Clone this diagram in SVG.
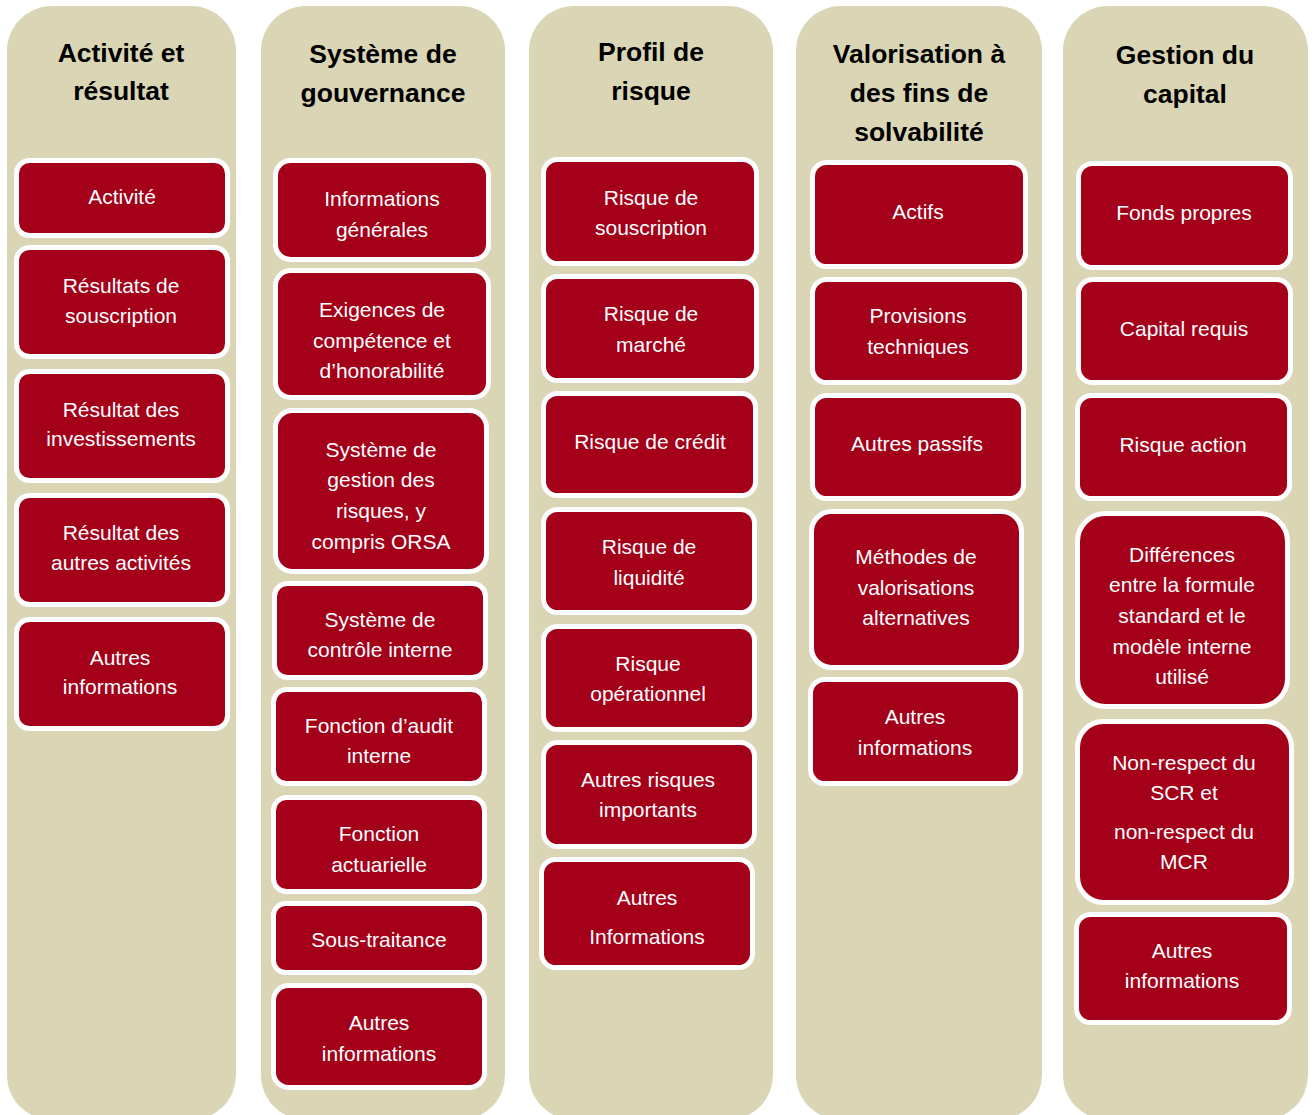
<svg xmlns="http://www.w3.org/2000/svg" width="1312" height="1115" viewBox="0 0 1312 1115">
<style>
.col{fill:#DAD5B5;}
.box{fill:#A40019;stroke:#FFFFFF;stroke-width:5;}
.t{font-family:"Liberation Sans",Arial,sans-serif;font-size:21px;fill:#FFFFFF;text-anchor:middle;}
.h{font-family:"Liberation Sans",Arial,sans-serif;font-size:26.5px;font-weight:bold;fill:#000000;text-anchor:middle;}
</style>
<rect width="1312" height="1115" fill="#FFFFFF"/>
<g id="columns">
<rect class="col" x="7" y="6" width="229" height="1114" rx="45"/>
<rect class="col" x="261" y="6" width="244" height="1114" rx="45"/>
<rect class="col" x="529" y="6" width="244" height="1114" rx="45"/>
<rect class="col" x="796" y="6" width="246" height="1114" rx="45"/>
<rect class="col" x="1063" y="6" width="245" height="1114" rx="45"/>
</g>
<g id="headers">
<text class="h" x="121" y="62">Activité et</text>
<text class="h" x="121" y="100">résultat</text>
<text class="h" x="383" y="63">Système de</text>
<text class="h" x="383" y="102">gouvernance</text>
<text class="h" x="651" y="61">Profil de</text>
<text class="h" x="651" y="100">risque</text>
<text class="h" x="919" y="63">Valorisation à</text>
<text class="h" x="919" y="102">des fins de</text>
<text class="h" x="919" y="141">solvabilité</text>
<text class="h" x="1185" y="64">Gestion du</text>
<text class="h" x="1185" y="103">capital</text>
</g>
<g id="connectors"></g>
<!-- Column 1 -->
<g id="n-activite"><rect class="box" x="16.5" y="160.5" width="211" height="75" rx="13"/><text class="t" x="122" y="204">Activité</text></g>
<g id="n-res-souscription"><rect class="box" x="16.5" y="247.5" width="211" height="109" rx="13"/><text class="t" x="121" y="293">Résultats de</text><text class="t" x="121" y="323">souscription</text></g>
<g id="n-res-invest"><rect class="box" x="16.5" y="371.5" width="211" height="109" rx="13"/><text class="t" x="121" y="417">Résultat des</text><text class="t" x="121" y="446">investissements</text></g>
<g id="n-res-autres"><rect class="box" x="16.5" y="495.5" width="211" height="109" rx="13"/><text class="t" x="121" y="540">Résultat des</text><text class="t" x="121" y="570">autres activités</text></g>
<g id="n-autres-info-1"><rect class="box" x="16.5" y="619.5" width="211" height="109" rx="13"/><text class="t" x="120" y="665">Autres</text><text class="t" x="120" y="694">informations</text></g>
<!-- Column 2 -->
<g id="n-info-gen"><rect class="box" x="275.5" y="160.5" width="213" height="99" rx="15"/><text class="t" x="382" y="206">Informations</text><text class="t" x="382" y="237">générales</text></g>
<g id="n-exigences"><rect class="box" x="275.5" y="270.5" width="213" height="127" rx="15"/><text class="t" x="382" y="317">Exigences de</text><text class="t" x="382" y="348">compétence et</text><text class="t" x="382" y="378">d’honorabilité</text></g>
<g id="n-gestion-risques"><rect class="box" x="275.5" y="410.5" width="211" height="161" rx="17"/><text class="t" x="381" y="457">Système de</text><text class="t" x="381" y="487">gestion des</text><text class="t" x="381" y="518">risques, y</text><text class="t" x="381" y="549">compris ORSA</text></g>
<g id="n-controle"><rect class="box" x="274.5" y="583.5" width="211" height="94" rx="13"/><text class="t" x="380" y="627">Système de</text><text class="t" x="380" y="657">contrôle interne</text></g>
<g id="n-audit"><rect class="box" x="273.5" y="689.5" width="211" height="94" rx="13"/><text class="t" x="379" y="733">Fonction d’audit</text><text class="t" x="379" y="763">interne</text></g>
<g id="n-actuarielle"><rect class="box" x="273.5" y="797.5" width="211" height="94" rx="13"/><text class="t" x="379" y="841">Fonction</text><text class="t" x="379" y="872">actuarielle</text></g>
<g id="n-sous-traitance"><rect class="box" x="273.5" y="903.5" width="211" height="69" rx="12"/><text class="t" x="379" y="947">Sous-traitance</text></g>
<g id="n-autres-info-2"><rect class="box" x="273.5" y="985.5" width="211" height="102" rx="15"/><text class="t" x="379" y="1030">Autres</text><text class="t" x="379" y="1061">informations</text></g>
<!-- Column 3 -->
<g id="n-risque-sousc"><rect class="box" x="543.5" y="159.5" width="213" height="104" rx="14"/><text class="t" x="651" y="205">Risque de</text><text class="t" x="651" y="235">souscription</text></g>
<g id="n-risque-marche"><rect class="box" x="543.5" y="276.5" width="213" height="104" rx="14"/><text class="t" x="651" y="321">Risque de</text><text class="t" x="651" y="352">marché</text></g>
<g id="n-risque-credit"><rect class="box" x="543.5" y="393.5" width="212" height="102" rx="14"/><text class="t" x="650" y="449">Risque de crédit</text></g>
<g id="n-risque-liquidite"><rect class="box" x="543.5" y="509.5" width="211" height="103" rx="14"/><text class="t" x="649" y="554">Risque de</text><text class="t" x="649" y="585">liquidité</text></g>
<g id="n-risque-oper"><rect class="box" x="543.5" y="626.5" width="211" height="103" rx="14"/><text class="t" x="648" y="671">Risque</text><text class="t" x="648" y="701">opérationnel</text></g>
<g id="n-autres-risques"><rect class="box" x="543.5" y="742.5" width="211" height="104" rx="14"/><text class="t" x="648" y="787">Autres risques</text><text class="t" x="648" y="817">importants</text></g>
<g id="n-autres-info-3"><rect class="box" x="541.5" y="859.5" width="211" height="108" rx="14"/><text class="t" x="647" y="905">Autres</text><text class="t" x="647" y="944">Informations</text></g>
<!-- Column 4 -->
<g id="n-actifs"><rect class="box" x="812.5" y="162.5" width="213" height="104" rx="14"/><text class="t" x="918" y="219">Actifs</text></g>
<g id="n-provisions"><rect class="box" x="812.5" y="279.5" width="212" height="103" rx="14"/><text class="t" x="918" y="323">Provisions</text><text class="t" x="918" y="354">techniques</text></g>
<g id="n-autres-passifs"><rect class="box" x="812.5" y="395.5" width="211" height="103" rx="14"/><text class="t" x="917" y="451">Autres passifs</text></g>
<g id="n-methodes"><rect class="box" x="811.5" y="511.5" width="210" height="156" rx="20"/><text class="t" x="916" y="564">Méthodes de</text><text class="t" x="916" y="595">valorisations</text><text class="t" x="916" y="625">alternatives</text></g>
<g id="n-autres-info-4"><rect class="box" x="810.5" y="679.5" width="210" height="104" rx="14"/><text class="t" x="915" y="724">Autres</text><text class="t" x="915" y="755">informations</text></g>
<!-- Column 5 -->
<g id="n-fonds-propres"><rect class="box" x="1078.5" y="163.5" width="212" height="104" rx="14"/><text class="t" x="1184" y="220">Fonds propres</text></g>
<g id="n-capital-requis"><rect class="box" x="1078.5" y="279.5" width="212" height="103" rx="14"/><text class="t" x="1184" y="336">Capital requis</text></g>
<g id="n-risque-action"><rect class="box" x="1077.5" y="395.5" width="212" height="103" rx="14"/><text class="t" x="1183" y="452">Risque action</text></g>
<g id="n-differences"><rect class="box" x="1077.5" y="513.5" width="210" height="193" rx="28"/><text class="t" x="1182" y="562">Différences</text><text class="t" x="1182" y="592">entre la formule</text><text class="t" x="1182" y="623">standard et le</text><text class="t" x="1182" y="654">modèle interne</text><text class="t" x="1182" y="684">utilisé</text></g>
<g id="n-non-respect"><rect class="box" x="1077.5" y="721.5" width="214" height="181" rx="26"/><text class="t" x="1184" y="770">Non-respect du</text><text class="t" x="1184" y="800">SCR et</text><text class="t" x="1184" y="839">non-respect du</text><text class="t" x="1184" y="869">MCR</text></g>
<g id="n-autres-info-5"><rect class="box" x="1076.5" y="914.5" width="213" height="108" rx="14"/><text class="t" x="1182" y="958">Autres</text><text class="t" x="1182" y="988">informations</text></g>
</svg>
